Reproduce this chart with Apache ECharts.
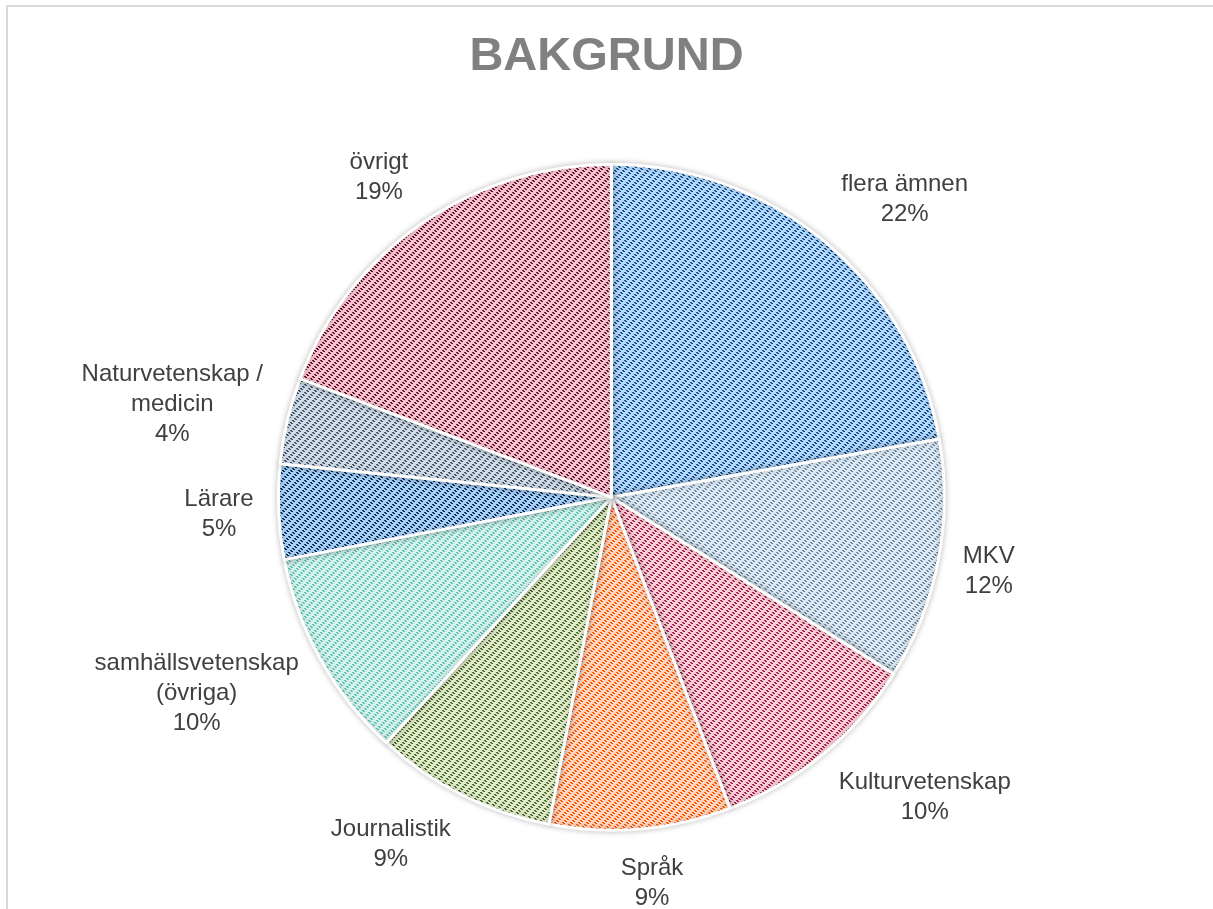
<!DOCTYPE html>
<html>
<head>
<meta charset="utf-8">
<script src="https://cdn.jsdelivr.net/npm/echarts@6/dist/echarts.min.js"></script>
<style>
  html, body { margin: 0; padding: 0; background: #fff; }
  #frame { position: absolute; left: 6px; top: 5px; width: 1220px; height: 920px;
           border-left: 2px solid #d9d9d9; border-top: 2px solid #d9d9d9; }
  #main { position: absolute; left: 0; top: 0; width: 1213px; height: 909px; }
</style>
</head>
<body>
<div id="frame"></div>
<div id="main"></div>
<script>
// kategorier och andelar (procent), medurs från kl. 12
const categories = ['flera ämnen', 'MKV', 'Kulturvetenskap', 'Språk', 'Journalistik',
  'samhällsvetenskap\n(övriga)', 'Lärare', 'Naturvetenskap /\nmedicin', 'övrigt']
const values = [22.2, 11.7, 10.3, 8.8, 8.8, 10.2, 4.6, 4.2, 19.2]
// ljus botten + mörkt streckmönster per sektor
const baseColors = ['#b6d7f7', '#dde7ef', '#f6cdd8', '#ffd3bd', '#dfe9cb', '#d5f1ec', '#a9d0f5', '#d3dce5', '#f3c3cf']
const darkColors = ['#0b4f92', '#6c8dab', '#a61f44', '#ff5a00', '#4b6b22', '#5dc6b3', '#0a2f5c', '#3b5670', '#6b0f2b']

const CENTER = [0.504, 0.547]
const RADIUS = 333
const LABEL_GAP = 25

// gör ett litet mönster (som Excels streckade diagonal)
function makePattern(base, dark) {
  const c = document.createElement('canvas')
  c.width = 8
  c.height = 8
  const g = c.getContext('2d')
  g.fillStyle = base
  g.fillRect(0, 0, 8, 8)
  g.fillStyle = dark
  for (let y = 0; y < 8; y++) {
    for (let x = 0; x < 8; x++) {
      if (((x - y + 8) % 4 < 2) && ((x + y) % 8 < 4)) g.fillRect(x, y, 1, 1)
    }
  }
  return { image: c, repeat: 'repeat' }
}

const chart = echarts.init(document.getElementById('main'))
const total = values.reduce((a, b) => a + b, 0)
// mittvinkel för varje sektor (radianer, medurs från kl. 12)
const midAngles = []
let acc = 0
values.forEach(v => {
  midAngles.push((acc + v / 2) / total * Math.PI * 2)
  acc += v
})

const pieData = categories.map((name, i) => ({
  name: name,
  value: values[i],
  itemStyle: { color: makePattern(baseColors[i], darkColors[i]) }
}))

// placera etiketten som Excel: boxens närmaste hörn strax utanför cirkeln
function placeLabel(params) {
  const a = midAngles[params.dataIndex]
  const dx = Math.sin(a)
  const dy = -Math.cos(a)
  const cx = chart.getWidth() * CENTER[0]
  const cy = chart.getHeight() * CENTER[1]
  const w = params.labelRect.width
  const h = params.labelRect.height
  const r = RADIUS + LABEL_GAP
  const fx = Math.abs(dx) < 0.3 ? dx / 0.3 : Math.sign(dx)
  return {
    x: cx + dx * r + fx * w / 2,
    y: cy + dy * r + dy * h / 2,
    align: 'center',
    verticalAlign: 'middle'
  }
}

chart.setOption({
  animation: false,
  title: {
    text: 'BAKGRUND',
    left: 'center',
    top: 29,
    textStyle: { fontFamily: 'Liberation Sans, Arial', fontSize: 47, fontWeight: 'bold', color: '#808080' }
  },
  series: [
    {
      type: 'pie',
      center: [CENTER[0] * 100 + '%', CENTER[1] * 100 + '%'],
      radius: RADIUS,
      startAngle: 90,
      clockwise: true,
      data: pieData,
      itemStyle: {
        borderColor: '#fff',
        borderWidth: 3,
        shadowBlur: 6,
        shadowColor: 'rgba(0,0,0,0.22)'
      },
      label: {
        show: true,
        position: 'outside',
        fontFamily: 'Liberation Sans, Arial',
        fontSize: 24,
        lineHeight: 30,
        color: '#404040',
        formatter: p => p.name + '\n' + Math.round(p.percent) + '%'
      },
      labelLine: { show: false, length: 20, length2: 0 },
      labelLayout: placeLabel
    }
  ]
})
</script>
</body>
</html>
